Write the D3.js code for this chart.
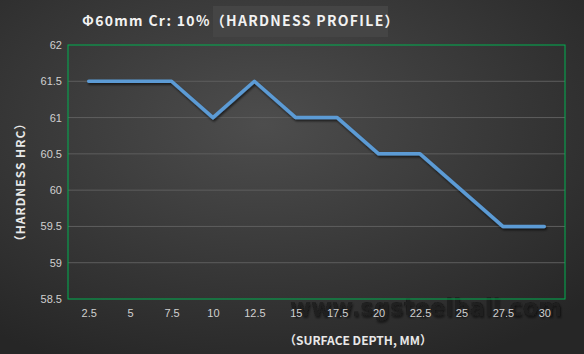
<!DOCTYPE html>
<html lang="en">
<head>
<meta charset="utf-8">
<title>Hardness Profile</title>
<script src="https://d3js.org/d3.v7.min.js"></script>
<style>
  body { margin: 0; background: #333; }
  svg { display: block; }
  .tick text { font-family: "Liberation Sans", Arial, sans-serif; font-size: 11px; fill: #d0d0d0; }
  .title { font-family: "Noto Sans CJK SC", sans-serif; font-weight: bold; fill: #f2f2f2; }
  .axis-title { font-family: "Noto Sans CJK SC", sans-serif; font-weight: bold; font-size: 12px; fill: #e8e8e8; }
</style>
</head>
<body>
<script>
// chart data
const depths = ["2.5", "5", "7.5", "10", "12.5", "15", "17.5", "20", "22.5", "25", "27.5", "30"];
const hardness = [61.5, 61.5, 61.5, 61, 61.5, 61, 61, 60.5, 60.5, 60, 59.5, 59.5];
const yTicks = [58.5, 59, 59.5, 60, 60.5, 61, 61.5, 62];

const width = 584, height = 354;
const margin = {top: 45, right: 19, bottom: 55, left: 68};

const svg = d3.select("body").append("svg")
  .attr("width", width)
  .attr("height", height);

// background gradient
const defs = svg.append("defs");
const grad = defs.append("radialGradient")
  .attr("id", "bg")
  .attr("cx", "45%").attr("cy", "35%").attr("r", "75%");
grad.append("stop").attr("offset", "0%").attr("stop-color", "#4d4d4d");
grad.append("stop").attr("offset", "100%").attr("stop-color", "#262626");

const shadow = defs.append("filter").attr("id", "shadow")
  .attr("x", "-5%").attr("y", "-20%").attr("width", "110%").attr("height", "140%");
shadow.append("feDropShadow")
  .attr("dx", 1).attr("dy", 2).attr("stdDeviation", 1.2)
  .attr("flood-color", "#000").attr("flood-opacity", 0.6);

svg.append("rect")
  .attr("width", width).attr("height", height)
  .attr("fill", "url(#bg)");

const x = d3.scalePoint()
  .domain(depths)
  .range([margin.left, width - margin.right])
  .padding(0.5);

const y = d3.scaleLinear()
  .domain([58.5, 62])
  .range([height - margin.bottom, margin.top]);

// gridlines
svg.append("g")
  .selectAll("line")
  .data(yTicks.slice(1, -1))
  .enter()
  .append("line")
  .attr("x1", margin.left)
  .attr("x2", width - margin.right)
  .attr("y1", d => y(d))
  .attr("y2", d => y(d))
  .attr("stroke", "#5e5e5e")
  .attr("stroke-width", 1);

// watermark (drawn under the tick labels)
svg.append("text")
  .attr("x", 290)
  .attr("y", 316)
  .attr("font-family", "DejaVu Sans, sans-serif")
  .attr("font-weight", "bold")
  .attr("font-size", "24px")
  .attr("textLength", 272)
  .attr("lengthAdjust", "spacingAndGlyphs")
  .attr("fill", "#1c1c1c")
  .attr("fill-opacity", 0.85)
  .attr("filter", "url(#shadow)")
  .text("www.sgsteelball.com");

// y axis
const leftAxis = d3.axisLeft(y).tickValues(yTicks).tickSize(0).tickPadding(6).tickFormat(d3.format("~g"));
svg.append("g")
  .attr("transform", "translate(" + margin.left + ",0)")
  .call(leftAxis)
  .call(g => g.select(".domain").remove());

// x axis
const bottomAxis = d3.axisBottom(x).tickSize(0).tickPadding(10);
svg.append("g")
  .attr("transform", "translate(0," + (height - margin.bottom) + ")")
  .call(bottomAxis)
  .call(g => g.select(".domain").remove());

// plot border
svg.append("rect")
  .attr("x", margin.left)
  .attr("y", margin.top)
  .attr("width", width - margin.left - margin.right)
  .attr("height", height - margin.top - margin.bottom)
  .attr("fill", "none")
  .attr("stroke", "#00b050")
  .attr("stroke-width", 1);

// the line
const line = d3.line()
  .x((d, i) => x(depths[i]))
  .y(d => y(d));

svg.append("path")
  .datum(hardness)
  .attr("d", line)
  .attr("fill", "none")
  .attr("stroke", "#5b9bd5")
  .attr("stroke-width", 3.5)
  .attr("stroke-linejoin", "round")
  .attr("stroke-linecap", "round")
  .attr("filter", "url(#shadow)");

// title
svg.append("rect")
  .attr("x", 213).attr("y", 6).attr("width", 175).attr("height", 31)
  .attr("fill", "#454545");
svg.append("text")
  .attr("class", "title")
  .attr("x", 82)
  .attr("y", 26)
  .attr("font-size", "14px")
  .attr("letter-spacing", "1.3px")
  .text("Φ60mm Cr: 10%（HARDNESS PROFILE）");

// axis titles
svg.append("text")
  .attr("class", "axis-title")
  .attr("text-anchor", "middle")
  .attr("transform", "translate(25,182) rotate(-90)")
  .attr("letter-spacing", "1px")
  .text("（HARDNESS  HRC）");

svg.append("text")
  .attr("class", "axis-title")
  .attr("text-anchor", "middle")
  .attr("x", 358)
  .attr("y", 345)
  .text("（SURFACE DEPTH, MM）");
</script>
</body>
</html>
